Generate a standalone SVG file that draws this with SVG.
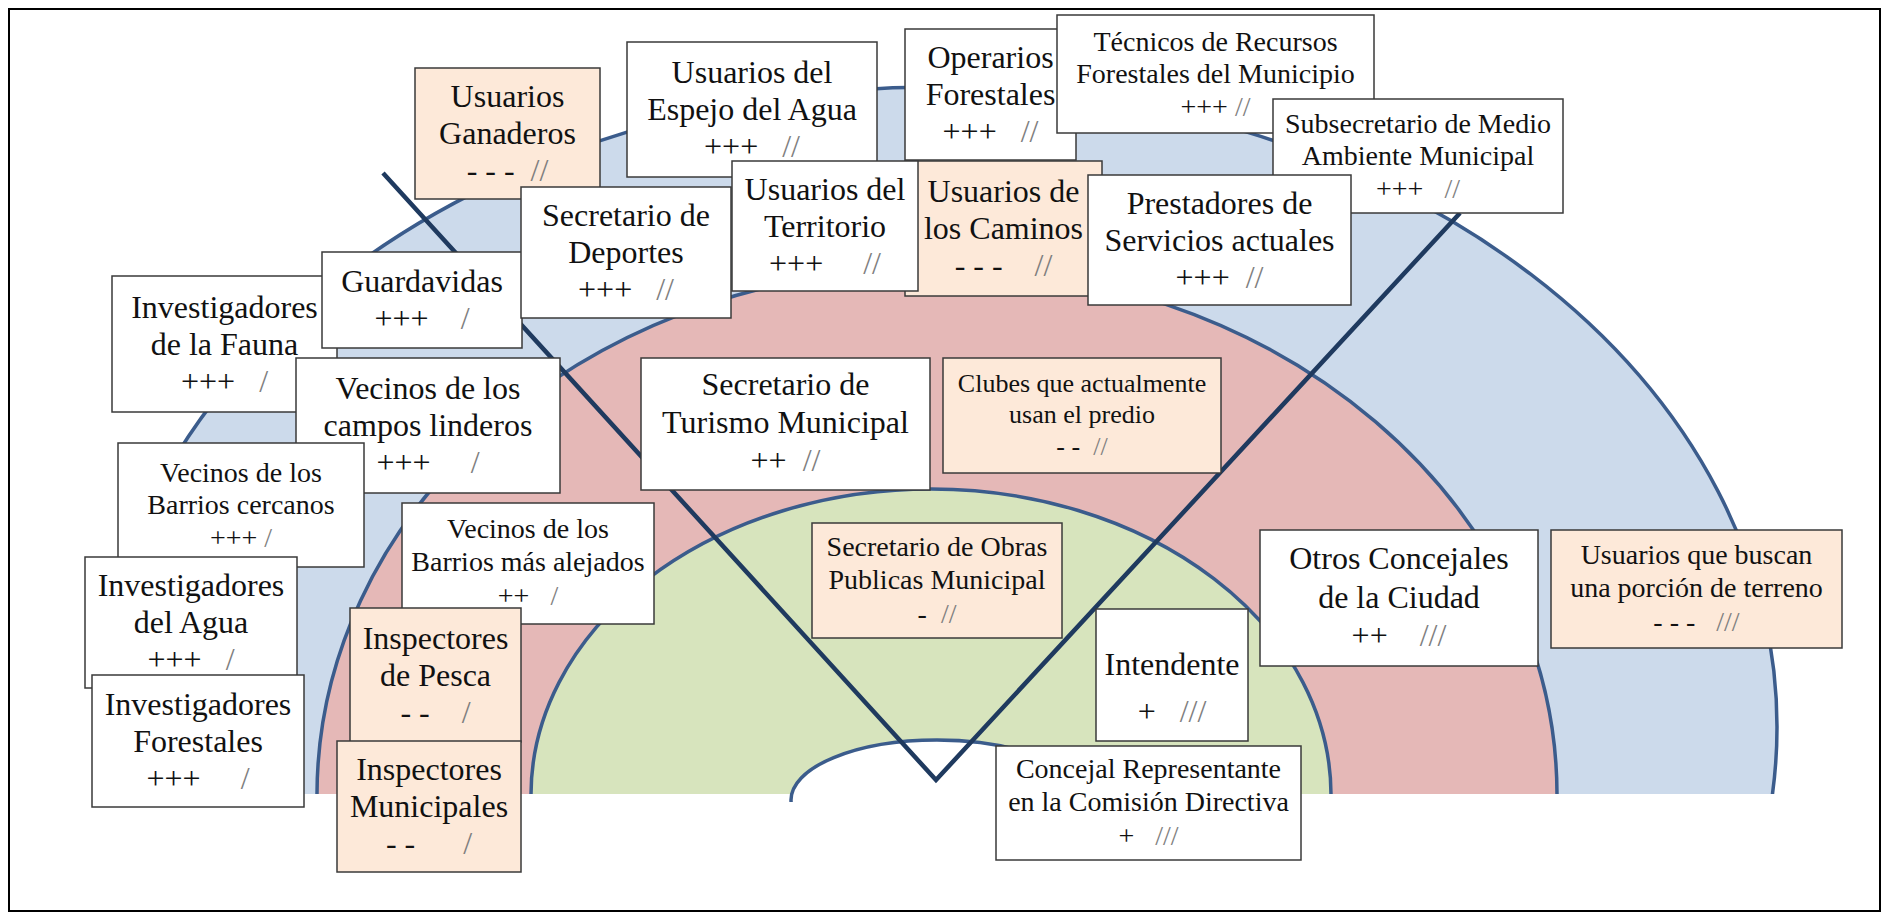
<svg xmlns="http://www.w3.org/2000/svg" width="1888" height="917" viewBox="0 0 1888 917">
<style>
.bx{stroke:#3a3a3a;stroke-width:1.5}
.w{fill:#ffffff}
.p{fill:#FDE9D9}
.arc{stroke:#3B5C8C;stroke-width:3.5}
text{font-family:"Liberation Serif","Times New Roman",serif;fill:#111;text-anchor:middle}
.f32{font-size:32px}
.f28{font-size:28px}
.f26{font-size:26px}
.sl{fill:#7f7f7f}
</style>
<defs>
<clipPath id="base"><rect x="0" y="0" width="1888" height="794"/></clipPath>
<clipPath id="base2"><rect x="0" y="0" width="1888" height="802"/></clipPath>
</defs>
<rect x="0" y="0" width="1888" height="917" fill="#ffffff"/>
<rect x="9" y="9" width="1871" height="902" fill="none" stroke="#000" stroke-width="2"/>
<g id="rings">
<g clip-path="url(#base)">
<ellipse cx="937" cy="727" rx="840" ry="640" fill="#CCDAEB" class="arc"/>
<ellipse cx="937" cy="795" rx="620" ry="528" fill="#E5B8B7" class="arc"/>
<ellipse cx="931" cy="795" rx="400" ry="306" fill="#D7E4BD" class="arc"/>
</g>
<g clip-path="url(#base2)">
<ellipse cx="937" cy="800" rx="146" ry="60" fill="#ffffff" class="arc"/>
</g>
</g>
<g id="connectors">
<polyline points="383,173 936,780 1460,213" fill="none" stroke="#1F3A5F" stroke-width="4.5" stroke-linejoin="miter"/>
</g>
<g id="n-fauna"><rect class="bx w" x="112" y="276" width="225" height="136"/>
<text class="f32" x="224.5" y="317.6">Investigadores</text><text class="f32" x="224.5" y="354.6">de la Fauna</text><text class="f32" x="224.5" y="391.6" xml:space="preserve">+++   <tspan class="sl">/</tspan></text></g>
<g id="n-guardavidas"><rect class="bx w" x="322" y="252" width="200" height="96"/>
<text class="f32" x="422" y="292">Guardavidas</text><text class="f32" x="422" y="329" xml:space="preserve">+++    <tspan class="sl">/</tspan></text></g>
<g id="n-ganaderos"><rect class="bx p" x="415" y="68" width="185" height="131"/>
<text class="f32" x="507.5" y="107">Usuarios</text><text class="f32" x="507.5" y="144">Ganaderos</text><text class="f32" x="507.5" y="181" xml:space="preserve">- - -  <tspan class="sl">//</tspan></text></g>
<g id="n-deportes"><rect class="bx w" x="521" y="187" width="210" height="131"/>
<text class="f32" x="626" y="226">Secretario de</text><text class="f32" x="626" y="263">Deportes</text><text class="f32" x="626" y="300" xml:space="preserve">+++   <tspan class="sl">//</tspan></text></g>
<g id="n-espejo"><rect class="bx w" x="627" y="42" width="250" height="135"/>
<text class="f32" x="752" y="83">Usuarios del</text><text class="f32" x="752" y="120">Espejo del Agua</text><text class="f32" x="752" y="157" xml:space="preserve">+++   <tspan class="sl">//</tspan></text></g>
<g id="n-caminos"><rect class="bx p" x="905" y="161" width="197" height="135"/>
<text class="f32" x="1003.5" y="202">Usuarios de</text><text class="f32" x="1003.5" y="239">los Caminos</text><text class="f32" x="1003.5" y="276" xml:space="preserve">- - -    <tspan class="sl">//</tspan></text></g>
<g id="n-territorio"><rect class="bx w" x="732" y="161" width="186" height="130"/>
<text class="f32" x="825" y="199.6">Usuarios del</text><text class="f32" x="825" y="236.6">Territorio</text><text class="f32" x="825" y="273.6" xml:space="preserve">+++     <tspan class="sl">//</tspan></text></g>
<g id="n-operarios"><rect class="bx w" x="905" y="29" width="171" height="131"/>
<text class="f32" x="990.5" y="68">Operarios</text><text class="f32" x="990.5" y="105">Forestales</text><text class="f32" x="990.5" y="142" xml:space="preserve">+++   <tspan class="sl">//</tspan></text></g>
<g id="n-tecnicos"><rect class="bx w" x="1057" y="15" width="317" height="118"/>
<text class="f28" x="1215.5" y="50.7">Técnicos de Recursos</text><text class="f28" x="1215.5" y="83.2">Forestales del Municipio</text><text class="f28" x="1215.5" y="115.7" xml:space="preserve">+++ <tspan class="sl">//</tspan></text></g>
<g id="n-subsecretario"><rect class="bx w" x="1273" y="99" width="290" height="114"/>
<text class="f28" x="1418" y="132.7">Subsecretario de Medio</text><text class="f28" x="1418" y="165.2">Ambiente Municipal</text><text class="f28" x="1418" y="197.7" xml:space="preserve">+++   <tspan class="sl">//</tspan></text></g>
<g id="n-prestadores"><rect class="bx w" x="1088" y="175" width="263" height="130"/>
<text class="f32" x="1219.5" y="213.6">Prestadores de</text><text class="f32" x="1219.5" y="250.6">Servicios actuales</text><text class="f32" x="1219.5" y="287.6" xml:space="preserve">+++  <tspan class="sl">//</tspan></text></g>
<g id="n-campos"><rect class="bx w" x="296" y="358" width="264" height="135"/>
<text class="f32" x="428" y="399">Vecinos de los</text><text class="f32" x="428" y="436">campos linderos</text><text class="f32" x="428" y="473" xml:space="preserve">+++     <tspan class="sl">/</tspan></text></g>
<g id="n-cercanos"><rect class="bx w" x="118" y="443" width="246" height="124"/>
<text class="f28" x="241" y="481.7">Vecinos de los</text><text class="f28" x="241" y="514.2">Barrios cercanos</text><text class="f28" x="241" y="546.7" xml:space="preserve">+++ <tspan class="sl">/</tspan></text></g>
<g id="n-agua"><rect class="bx w" x="85" y="557" width="212" height="131"/>
<text class="f32" x="191" y="596">Investigadores</text><text class="f32" x="191" y="633">del Agua</text><text class="f32" x="191" y="670" xml:space="preserve">+++   <tspan class="sl">/</tspan></text></g>
<g id="n-forestales"><rect class="bx w" x="92" y="675" width="212" height="132"/>
<text class="f32" x="198" y="714.6">Investigadores</text><text class="f32" x="198" y="751.6">Forestales</text><text class="f32" x="198" y="788.6" xml:space="preserve">+++     <tspan class="sl">/</tspan></text></g>
<g id="n-alejados"><rect class="bx w" x="402" y="503" width="252" height="121"/>
<text class="f28" x="528" y="538">Vecinos de los</text><text class="f28" x="528" y="571">Barrios más alejados</text><text class="f28" x="528" y="605" xml:space="preserve">++   <tspan class="sl">/</tspan></text></g>
<g id="n-pesca"><rect class="bx p" x="350" y="608" width="171" height="134"/>
<text class="f32" x="435.5" y="648.6">Inspectores</text><text class="f32" x="435.5" y="685.6">de Pesca</text><text class="f32" x="435.5" y="722.6" xml:space="preserve">- -    <tspan class="sl">/</tspan></text></g>
<g id="n-municipales"><rect class="bx p" x="337" y="741" width="184" height="131"/>
<text class="f32" x="429" y="780">Inspectores</text><text class="f32" x="429" y="817">Municipales</text><text class="f32" x="429" y="854" xml:space="preserve">- -      <tspan class="sl">/</tspan></text></g>
<g id="n-turismo"><rect class="bx w" x="641" y="358" width="289" height="132"/>
<text class="f32" x="785.5" y="395">Secretario de</text><text class="f32" x="785.5" y="433">Turismo Municipal</text><text class="f32" x="785.5" y="471" xml:space="preserve">++  <tspan class="sl">//</tspan></text></g>
<g id="n-clubes"><rect class="bx p" x="943" y="358" width="278" height="115"/>
<text class="f26" x="1082" y="392">Clubes que actualmente</text><text class="f26" x="1082" y="423">usan el predio</text><text class="f26" x="1082" y="455" xml:space="preserve">- -  <tspan class="sl">//</tspan></text></g>
<g id="n-obras"><rect class="bx p" x="812" y="523" width="250" height="115"/>
<text class="f28" x="937" y="556">Secretario de Obras</text><text class="f28" x="937" y="589">Publicas Municipal</text><text class="f28" x="937" y="623" xml:space="preserve">-  <tspan class="sl">//</tspan></text></g>
<g id="n-intendente"><rect class="bx w" x="1096" y="609" width="152" height="132"/>
<text class="f32" x="1172" y="675">Intendente</text><text class="f32" x="1172" y="722" xml:space="preserve">+   <tspan class="sl">///</tspan></text></g>
<g id="n-concejal"><rect class="bx w" x="996" y="746" width="305" height="114"/>
<text class="f28" x="1148.5" y="778">Concejal Representante</text><text class="f28" x="1148.5" y="811">en la Comisión Directiva</text><text class="f28" x="1148.5" y="845" xml:space="preserve">+   <tspan class="sl">///</tspan></text></g>
<g id="n-otros"><rect class="bx w" x="1260" y="530" width="278" height="136"/>
<text class="f32" x="1399" y="569">Otros Concejales</text><text class="f32" x="1399" y="608">de la Ciudad</text><text class="f32" x="1399" y="645.6" xml:space="preserve">++    <tspan class="sl">///</tspan></text></g>
<g id="n-buscan"><rect class="bx p" x="1551" y="530" width="291" height="118"/>
<text class="f28" x="1696.5" y="564">Usuarios que buscan</text><text class="f28" x="1696.5" y="597">una porción de terreno</text><text class="f28" x="1696.5" y="631" xml:space="preserve">- - -   <tspan class="sl">///</tspan></text></g>
</svg>
